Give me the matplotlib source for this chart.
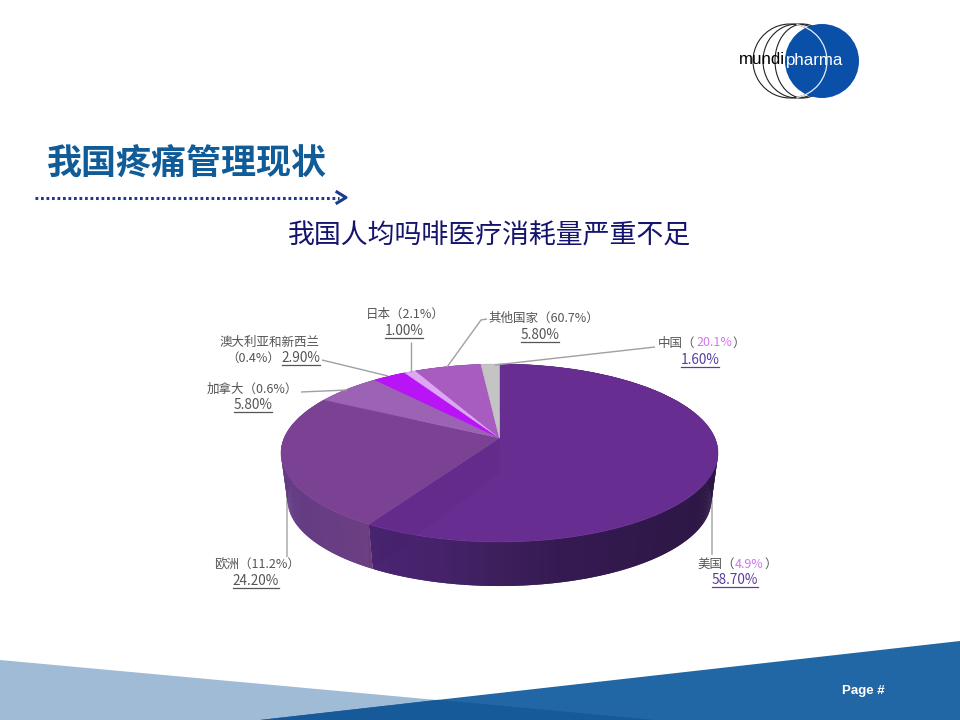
import numpy as np
import matplotlib
matplotlib.use("Agg")
import matplotlib.pyplot as plt
from matplotlib.transforms import Transform
from matplotlib.patches import Circle, Arc, Polygon
from matplotlib.colors import to_rgb

CJK = ['Noto Sans CJK SC', 'DejaVu Sans']
plt.rcParams['font.family'] = CJK

# ---- data ----
categories = ['美国', '欧洲', '加拿大', '澳大利亚和新西兰', '日本', '其他国家', '中国']
consumption = [58.70, 24.20, 5.80, 2.90, 1.00, 5.80, 1.60]
population = [4.9, 11.2, 0.6, 0.4, 2.1, 60.7, 20.1]
slice_colors = ['#672d91', '#7b4192', '#9c63b5', '#b814f5', '#dfa6f5', '#a85cbf', '#c4c4c4']
title_text = '我国疼痛管理现状'
subtitle_text = '我国人均吗啡医疗消耗量严重不足'

# ---- pie geometry in pixels ----
CX, CY, RX, RY, APEX = 499.5, 453.0, 218.5, 89.0, 15.0
BASE_DROP, BASE_SCALE = 46.7, 0.97
K = APEX / RY
C = RX * np.sqrt(1 - K * K)


class Perspective(Transform):
    """Tilted-disc projection of the unit pie onto slide pixels (y down)."""
    input_dims = output_dims = 2
    is_affine = False

    def transform_non_affine(self, v):
        v = np.asarray(v, float)
        d = 1 + K * v[:, 1]
        return np.column_stack([CX + C * v[:, 0] / d,
                                CY - (RY * v[:, 1] + APEX) / d])


fig = plt.figure(figsize=(9.6, 7.2), dpi=100, facecolor='white')
ax = fig.add_axes([0, 0, 1, 1])
wedges, _ = ax.pie(consumption, colors=slice_colors, startangle=90, counterclock=False,
                   wedgeprops=dict(linewidth=0.4))
ax.set_aspect('auto')
ax.set_xlim(0, 960)
ax.set_ylim(720, 0)
ax.axis('off')
persp = Perspective()


def base_of(p):
    """Point on the smaller lower rim below a top-rim point."""
    q = np.array([CX, CY + BASE_DROP]) + (np.asarray(p) - [CX, CY]) * BASE_SCALE
    return q


# side wall: colour by horizontal position for the two large slices
wall_x = {0: [370, 440, 500, 560, 718], 1: [281, 330, 370]}
wall_rgb = {0: ['#4a2472', '#45226a', '#3d1f5c', '#351a52', '#2c1744'],
            1: ['#623b84', '#683d83', '#6c3f82']}


def wall_color(i, x):
    if i in wall_x:
        rgb = np.array([to_rgb(c) for c in wall_rgb[i]])
        return tuple(np.interp(x, wall_x[i], rgb[:, k]) for k in range(3))
    return tuple(0.6 * c for c in to_rgb(slice_colors[i]))


for i, w in enumerate(wedges):
    a = np.radians(np.linspace(w.theta1, w.theta2, max(4, int(abs(w.theta2 - w.theta1) * 2))))
    p = persp.transform_non_affine(np.column_stack([np.cos(a), np.sin(a)]))
    for j in range(len(p) - 1):
        k = min(j + 2, len(p) - 1)
        c = wall_color(i, (p[j, 0] + p[j + 1, 0]) / 2)
        quad = [p[j], p[k], base_of(p[k]), base_of(p[j])]
        ax.add_patch(Polygon(quad, closed=True, fc=c, ec='none', lw=0, zorder=1 + j * 1e-4))
for w, col in zip(wedges, slice_colors):
    w.set_transform(persp + ax.transData)
    w.set_edgecolor(col)
    w.set_zorder(2)
    w.set_clip_on(False)

# faint darker band along the slice boundary of the largest slice
th = np.radians(wedges[0].theta1)
rim = persp.transform_non_affine(np.array([[np.cos(th), np.sin(th)]]))[0]
hub = persp.transform_non_affine(np.array([[0.0, 0.0]]))[0]
ax.add_patch(Polygon([hub, hub + [0, 35], rim + [13, 38], rim + [0, 41], rim],
                     closed=True, fc='black', ec='none', alpha=0.025, zorder=2.5))

GRAY = '#555555'
LINE = '#a0a0a0'
LAV = '#d275f2'
VIOLET = '#5b3aa6'


def seq(x, y, parts, size=9.0):
    """Write coloured text pieces one after another from left edge x."""
    r = fig.canvas.get_renderer()
    cur = x
    for s, c in parts:
        t = ax.text(cur, y, s, color=c, fontsize=size, va='center', ha='left', zorder=5)
        cur += t.get_window_extent(r).width + 0.5


def value(xc, y, v, color=GRAY, size=9.8):
    t = ax.text(xc, y, f'{v:.2f}%', color=color, fontsize=size, ha='center', va='center', zorder=5)
    e = t.get_window_extent(fig.canvas.get_renderer())
    ax.plot([xc - e.width / 2, xc + e.width / 2], [y + 7, y + 7], color=color, lw=0.9, zorder=5)


def par(i):
    return f'{population[i]}%'


def lead(xs, ys, color=LINE, lw=1.0, z=3):
    ax.plot(xs, ys, color=color, lw=lw, zorder=z, solid_capstyle='butt')


# leader lines
lead([495, 655], [365, 347])
lead([447, 481, 487], [367, 320, 319])
lead([410.5, 410.5], [372, 342])
lead([388, 322], [376, 360])
lead([347, 301], [390, 392])
lead([287, 287], [495, 557], '#b8b8b8', 1.3, 0.5)
lead([711.5, 711.5], [495, 555], '#b0b0b0', 1.2, 0.5)

# labels
seq(366, 314, [(f'{categories[4]}（{par(4)}）', GRAY)])
value(404, 331, consumption[4])
seq(488, 318, [(f'{categories[5]}（{par(5)}）', GRAY)])
value(540, 335, consumption[5])
seq(658, 343, [(f'{categories[6]}（', GRAY), (par(6), LAV), ('）', GRAY)])
value(700, 360, consumption[6], VIOLET)
seq(220, 342, [(categories[3], GRAY)])
seq(226, 358, [(f'（{par(3)}）', GRAY)])
value(301, 358, consumption[3])
seq(207, 389, [(f'{categories[2]}（{par(2)}）', GRAY)])
value(253, 405, consumption[2])
seq(214, 565, [(f'{categories[1]}（{par(1)}）', GRAY)])
value(256, 581, consumption[1])
seq(697, 564, [(f'{categories[0]}（', GRAY), (par(0), LAV), ('）', GRAY)])
value(735, 580, consumption[0], VIOLET)

# title block
ax.text(46.5, 164, title_text, fontsize=25.2, fontweight='bold', color='#0f5c99', va='center', ha='left', zorder=5)
ax.text(489.5, 236, subtitle_text, fontsize=19.4, color='#14146e', va='center', ha='center', zorder=5)
ax.plot([35, 339], [197.5, 197.5], color='#1a3c8c', lw=2.2, ls=(0, (0.9, 0.9)), zorder=5)
ax.plot([337, 346, 337], [192, 197.5, 203], color='#1a3c8c', lw=2.2, zorder=5)

# logo
ax.add_patch(Circle((822, 61), 37, fc='#0a50a8', ec='none', zorder=4))
ax.add_patch(Arc((790, 61), 74, 74, theta1=-80, theta2=80, color='#e8eef8', lw=0.9, zorder=5))
for xc, hw in [(790, 37), (797, 34), (803, 28)]:
    ax.add_patch(Arc((xc, 61), 2 * hw, 74, theta1=50, theta2=310, color='#222222', lw=0.8, zorder=3))
ax.text(785.5, 60, 'mundi', family=['Liberation Sans'], fontsize=12.2, color='black', ha='right', va='center', zorder=6)
ax.text(785.5, 60, 'pharma', family=['Liberation Sans'], fontsize=12.2, color='white', ha='left', va='center', zorder=6)

# footer bands
ax.add_patch(Polygon([(0, 660), (655, 720), (0, 720)], fc='#9fbbd6', ec='none', zorder=1))
ax.add_patch(Polygon([(260, 720), (960, 641), (960, 720)], fc='#2166a5', ec='none', zorder=1.1))
ax.add_patch(Polygon([(260, 720), (438, 699.8), (655, 720)], fc='#175a9a', ec='none', zorder=1.2))
ax.text(863.5, 691, 'Page #', family=['Liberation Sans'], fontsize=9.5, fontweight='bold', color='white',
        ha='center', va='center', zorder=5)

fig.savefig('out.png', dpi=100)
